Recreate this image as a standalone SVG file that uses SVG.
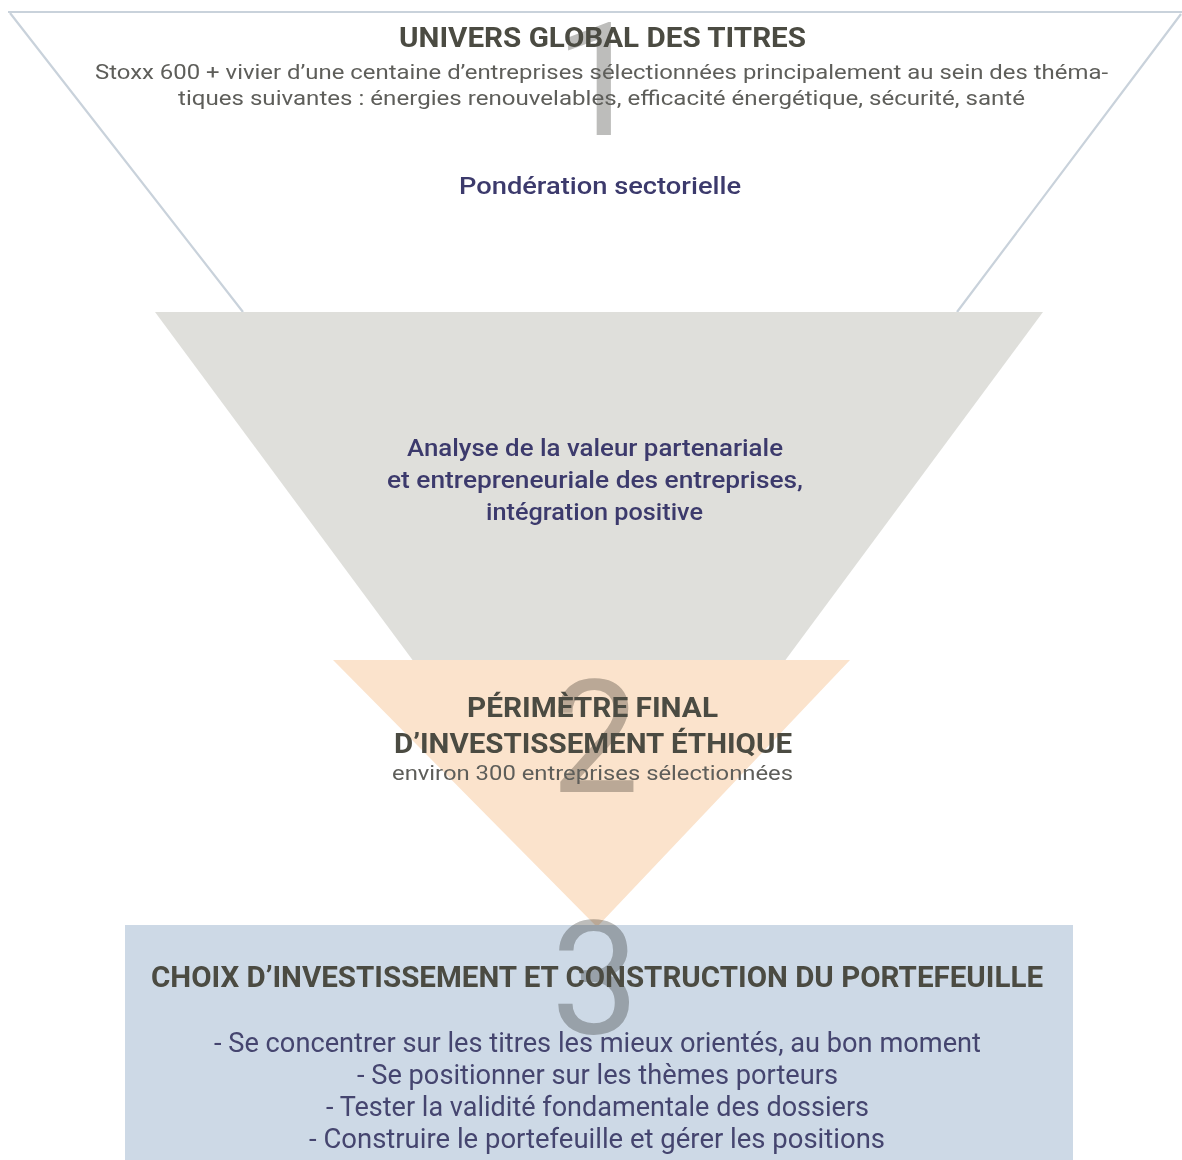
<svg xmlns="http://www.w3.org/2000/svg" width="1182" height="1160" viewBox="0 0 1182 1160">
<style>
text{font-family:Roboto,"Liberation Sans",sans-serif;text-anchor:middle}
.ttl{font-weight:bold;font-size:28px;fill:#4b4b42}
.big{font-size:30px}
.sub{font-size:21px;fill:#5e5e5a}
.nav{font-size:24px;fill:#3c3a6c;font-weight:500}
.bul{font-size:27px;fill:#45456f}
.dig{font-size:157px;fill:#bdbdbb;mix-blend-mode:multiply}
.edge{fill:none;stroke:#c9d2db;stroke-width:2.2}
</style>
<rect width="1182" height="1160" fill="#ffffff"/>
<g id="stage1-outline">
<path class="edge" d="M8 12 H1182 M10 13 L243 312 M1181 14 L957 312"/>
</g>
<g id="stage-analysis">
<polygon points="155,312 1043,312 599,912" fill="#dfdfdb"/>
</g>
<g id="stage2">
<polygon points="333,660 850,660 597,927" fill="#fbe3cc"/>
</g>
<g id="stage3">
<rect x="125" y="925" width="948" height="235" fill="#cdd9e6"/>
</g>
<g id="digits">
<text class="dig" x="599" y="135">1</text>
<text class="dig" x="595" y="792">2</text>
<text class="dig" x="595" y="1033">3</text>
</g>
<g id="stage1-text">
<text class="ttl" x="602.5" y="47" textLength="407" lengthAdjust="spacingAndGlyphs">UNIVERS GLOBAL DES TITRES</text>
<text class="sub" x="601.5" y="79" textLength="1013" lengthAdjust="spacingAndGlyphs">Stoxx 600 + vivier d’une centaine d’entreprises sélectionnées principalement au sein des théma-</text>
<text class="sub" x="601.5" y="105" textLength="847" lengthAdjust="spacingAndGlyphs">tiques suivantes : énergies renouvelables, efficacité énergétique, sécurité, santé</text>
</g>
<g id="weighting">
<text class="nav" x="600" y="194" textLength="282" lengthAdjust="spacingAndGlyphs">Pondération sectorielle</text>
</g>
<g id="analysis-text">
<text class="nav" x="595" y="456" textLength="376" lengthAdjust="spacingAndGlyphs">Analyse de la valeur partenariale</text>
<text class="nav" x="595" y="488" textLength="416" lengthAdjust="spacingAndGlyphs">et entrepreneuriale des entreprises,</text>
<text class="nav" x="594.5" y="520" textLength="217" lengthAdjust="spacingAndGlyphs">intégration positive</text>
</g>
<g id="stage2-text">
<text class="ttl" x="592.5" y="717" textLength="251" lengthAdjust="spacingAndGlyphs">PÉRIMÈTRE FINAL</text>
<text class="ttl" x="593" y="753" textLength="398" lengthAdjust="spacingAndGlyphs">D’INVESTISSEMENT ÉTHIQUE</text>
<text class="sub" x="592.5" y="780" textLength="401" lengthAdjust="spacingAndGlyphs">environ 300 entreprises sélectionnées</text>
</g>
<g id="stage3-text">
<text class="ttl big" x="597" y="987" textLength="892" lengthAdjust="spacingAndGlyphs">CHOIX D’INVESTISSEMENT ET CONSTRUCTION DU PORTEFEUILLE</text>
<text class="bul" x="597.5" y="1052" textLength="767" lengthAdjust="spacingAndGlyphs">- Se concentrer sur les titres les mieux orientés, au bon moment</text>
<text class="bul" x="597.5" y="1084" textLength="481" lengthAdjust="spacingAndGlyphs">- Se positionner sur les thèmes porteurs</text>
<text class="bul" x="597.5" y="1116" textLength="543" lengthAdjust="spacingAndGlyphs">- Tester la validité fondamentale des dossiers</text>
<text class="bul" x="597" y="1148" textLength="576" lengthAdjust="spacingAndGlyphs">- Construire le portefeuille et gérer les positions</text>
</g>
</svg>
